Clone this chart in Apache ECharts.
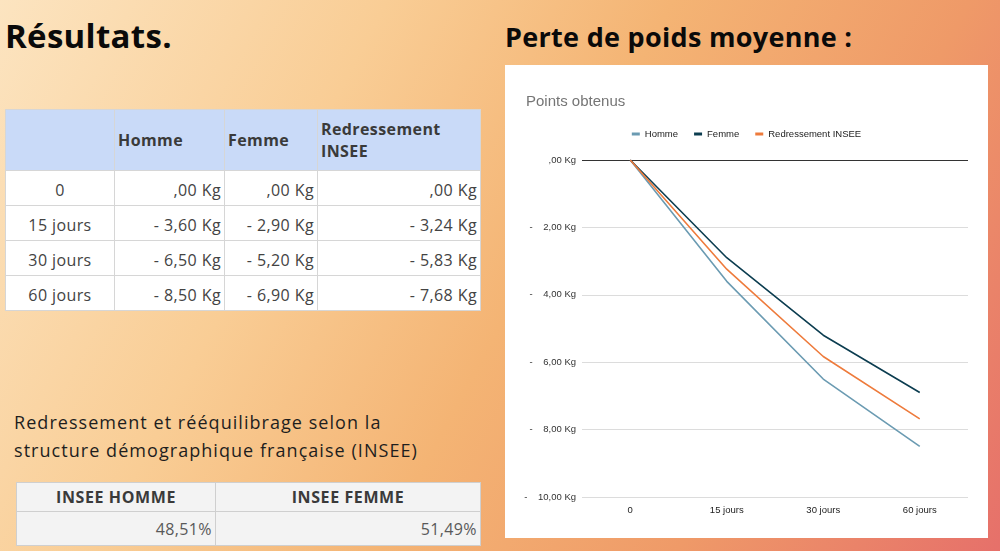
<!DOCTYPE html>
<html>
<head>
<meta charset="utf-8">
<script src="https://cdn.jsdelivr.net/npm/echarts@6/dist/echarts.min.js"></script>
<style>
  html, body { margin:0; padding:0; }
  body {
    width:1000px; height:551px; overflow:hidden; position:relative;
    background: linear-gradient(118deg, #fce4c0 0%, #f9cd95 30%, #f4b474 52%, #ef9a68 75%, #e6706a 100%);
    font-family: "Open Sans", "Noto Sans", sans-serif;
  }
  .h1 { position:absolute; font-weight:700; color:#0a0a0a; white-space:nowrap; letter-spacing:0.3px; }
  table { position:absolute; border-collapse:collapse; table-layout:fixed; }
  td { border:1px solid #d6d6d6; padding:0 5px; box-sizing:border-box; white-space:nowrap; letter-spacing:0.4px; }
  #t1 td { font-size:16px; color:#434343; background:#fff; }
  #t1 td.num { padding-right:3px; }
  #t1 tr.hd td { background:#c9daf8; font-weight:700; color:#3a3a3a; line-height:22px; padding-left:3px; }
  #t2 td { background:#f3f3f3; border-color:#cfcfcf; }
  #t2 tr.hd td { font-weight:700; font-size:16px; color:#3a3a3a; text-align:center; letter-spacing:0.6px; }
  #t2 tr.bd td { font-size:16px; color:#595959; text-align:right; padding-right:3px; }
  #note { position:absolute; left:14px; top:408px; font-size:18px; line-height:28px; color:#1e1e1e; letter-spacing:1.05px; white-space:nowrap; }
  #chartbox { position:absolute; left:505px; top:65px; width:483px; height:473px; background:#fff; }
</style>
</head>
<body>
<div class="h1" id="title1" style="left:5px; top:16px; font-size:33px; line-height:40px;">Résultats.</div>
<div class="h1" id="title2" style="left:505px; top:19px; font-size:27px; line-height:36px;">Perte de poids moyenne :</div>

<table id="t1"></table>
<div id="note"></div>
<table id="t2"></table>

<div id="chartbox"></div>

<script>
// ---- data ----
var categories = ['0', '15 jours', '30 jours', '60 jours'];
var seriesNames = ['Homme', 'Femme', 'Redressement INSEE'];
var homme = [0, -3.60, -6.50, -8.50];
var femme = [0, -2.90, -5.20, -6.90];
var redressement = [0, -3.24, -5.83, -7.68];
var inseeHeaders = ['INSEE HOMME', 'INSEE FEMME'];
var inseeValues = ['48,51%', '51,49%'];
var noteLines = ['Redressement et rééquilibrage selon la', 'structure démographique française (INSEE)'];
var chartTitle = 'Points obtenus';

function fmtKg(v) {
  if (v === 0) return ',00 Kg';
  return '- ' + Math.abs(v).toFixed(2).replace('.', ',') + ' Kg';
}
function fmtAxis(v) {
  if (v === 0) return ',00 Kg';
  return '-    ' + Math.abs(v).toFixed(2).replace('.', ',') + ' Kg';
}

// ---- table 1 ----
(function () {
  var t = document.getElementById('t1');
  t.style.left = '5px'; t.style.top = '109px'; t.style.width = '475px';
  var widths = [109, 110, 93, 163];
  var cg = '<colgroup>' + widths.map(function (w) { return '<col style="width:' + w + 'px">'; }).join('') + '</colgroup>';
  var html = cg + '<tr class="hd" style="height:61px"><td></td>' +
    seriesNames.map(function (n) { return '<td>' + n.replace(' ', '<br>') + '</td>'; }).join('') + '</tr>';
  var cols = [homme, femme, redressement];
  for (var i = 0; i < categories.length; i++) {
    html += '<tr style="height:35px"><td style="text-align:center; padding-top:3px">' + categories[i] + '</td>' +
      cols.map(function (c) { return '<td class="num" style="text-align:right; padding-top:3px">' + fmtKg(c[i]) + '</td>'; }).join('') + '</tr>';
  }
  t.innerHTML = html;
})();

// ---- table 2 ----
(function () {
  var t = document.getElementById('t2');
  t.style.left = '16px'; t.style.top = '482px'; t.style.width = '464px';
  var widths = [199, 265];
  var html = '<colgroup>' + widths.map(function (w) { return '<col style="width:' + w + 'px">'; }).join('') + '</colgroup>';
  html += '<tr class="hd" style="height:29px">' + inseeHeaders.map(function (h) { return '<td>' + h + '</td>'; }).join('') + '</tr>';
  html += '<tr class="bd" style="height:34px">' + inseeValues.map(function (v) { return '<td>' + v + '</td>'; }).join('') + '</tr>';
  t.innerHTML = html;
  document.getElementById('note').innerHTML = noteLines.join('<br>');
})();

// ---- chart ----
var chart = echarts.init(document.getElementById('chartbox'), null, { renderer: 'canvas' });
var colors = ['#6b9bb2', '#0c3d50', '#ee7b3c'];
var dataSets = [homme, femme, redressement];
var font = '"Liberation Sans", Arial, sans-serif';
chart.setOption({
  animation: false,
  backgroundColor: '#ffffff',
  color: colors,
  title: {
    text: chartTitle, left: 16, top: 24,
    textStyle: { fontFamily: font, fontSize: 15, fontWeight: 'normal', color: '#757575' }
  },
  legend: {
    top: 59, left: 'center',
    icon: 'rect', itemWidth: 8, itemHeight: 3, itemGap: 16,
    textStyle: { fontFamily: font, fontSize: 9.5, color: '#222' },
    data: seriesNames
  },
  grid: { left: 77, right: 20, top: 95, bottom: 41, containLabel: false },
  xAxis: {
    type: 'category', data: categories, boundaryGap: true,
    axisLine: { show: false }, axisTick: { show: false },
    axisLabel: { fontFamily: font, fontSize: 9.5, color: '#222', margin: 8 }
  },
  yAxis: {
    type: 'value', min: -10, max: 0, interval: 2,
    axisLine: { show: false }, axisTick: { show: false },
    axisLabel: { fontFamily: font, fontSize: 9.5, color: '#333', margin: 6, formatter: fmtAxis },
    splitLine: { lineStyle: { color: '#dcdcdc', width: 1 } }
  },
  series: seriesNames.map(function (n, i) {
    var s = {
      name: n, type: 'line', data: dataSets[i], symbol: 'none', smooth: false,
      lineStyle: { width: 1.6, color: colors[i] }, z: 3 + i
    };
    if (i === 0) {
      s.markLine = {
        silent: true, symbol: 'none', label: { show: false },
        lineStyle: { color: '#333', type: 'solid', width: 1 },
        data: [{ yAxis: 0 }], z: 1
      };
    }
    return s;
  })
});
</script>
</body>
</html>
